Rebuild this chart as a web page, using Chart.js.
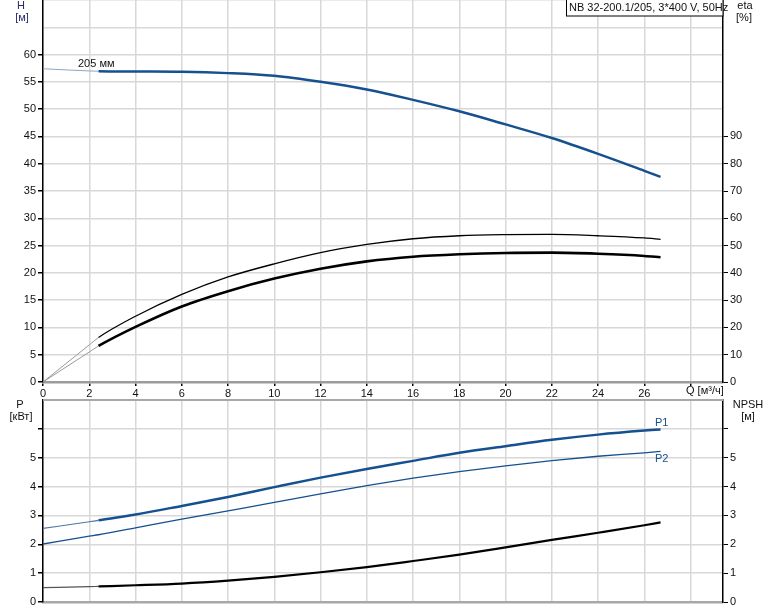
<!DOCTYPE html>
<html>
<head>
<meta charset="utf-8">
<script src="https://cdn.jsdelivr.net/npm/chart.js@4.4.0/dist/chart.umd.min.js"></script>
<style>
  html, body { margin: 0; padding: 0; background: #fff; }
  #wrap { position: relative; width: 774px; height: 611px; overflow: hidden; }
  #cTop { position: absolute; left: 0; top: 0; }
  #cBot { position: absolute; left: 0; top: 396px; }
</style>
</head>
<body>
<div id="wrap">
  <canvas id="cTop" width="774" height="400"></canvas>
  <canvas id="cBot" width="774" height="215"></canvas>
</div>
<script>
// расход Q, м3/ч
const qPts = [0, 2, 2.4, 4, 6, 8, 10, 12, 14, 16, 18, 20, 22, 24, 26, 26.7];
// напор H, м
const headH = [57.4, 57.0, 56.95, 56.9, 56.85, 56.6, 56.1, 55.0, 53.6, 51.7, 49.6, 47.2, 44.7, 41.8, 38.7, 37.6];
// КПД, %
const etaPump = [0, 13.6, 16.3, 24.1, 32.1, 38.5, 43.3, 47.4, 50.4, 52.5, 53.6, 54.0, 54.1, 53.6, 52.8, 52.3];
const etaTotal = [0, 11.0, 13.2, 20.2, 27.7, 33.3, 37.9, 41.5, 44.2, 45.9, 46.8, 47.3, 47.4, 47.0, 46.2, 45.7];
// мощность, кВт
const powerP1 = [2.55, 2.78, 2.83, 3.03, 3.33, 3.64, 3.98, 4.31, 4.61, 4.89, 5.17, 5.40, 5.62, 5.80, 5.94, 5.98];
const powerP2 = [2.01, 2.28, 2.33, 2.57, 2.87, 3.16, 3.45, 3.75, 4.03, 4.29, 4.52, 4.72, 4.90, 5.05, 5.17, 5.22];
// NPSH, м
const npsh = [0.50, 0.53, 0.54, 0.58, 0.64, 0.74, 0.87, 1.03, 1.21, 1.42, 1.64, 1.89, 2.15, 2.40, 2.66, 2.76];

// подписи осей
const qLabels = [0, 2, 4, 6, 8, 10, 12, 14, 16, 18, 20, 22, 24, 26];
const hLabels = [0, 5, 10, 15, 20, 25, 30, 35, 40, 45, 50, 55, 60];
const etaLabels = [0, 10, 20, 30, 40, 50, 60, 70, 80, 90];
const pLabels = [0, 1, 2, 3, 4, 5];
const npshLabels = [0, 1, 2, 3, 4, 5];

const qMax = 29.4;
const qStart = 2.4; // начало рабочей зоны
const FONT = '"Liberation Sans", Arial, sans-serif';
const gridColor = '#d8d8d8';
const blue = '#15508f';

Chart.defaults.font.family = FONT;
Chart.defaults.font.size = 11;
Chart.defaults.color = '#111';
Chart.defaults.animation = false;

const pts = vals => qPts.map((q, i) => ({ x: q, y: vals[i] }));

function line(vals, axis, thinColor, thickColor, wThin, wThick) {
  return {
    data: pts(vals),
    yAxisID: axis,
    borderColor: thickColor,
    borderWidth: wThick,
    pointRadius: 0,
    cubicInterpolationMode: 'monotone',
    segment: {
      borderColor: c => c.p1.parsed.x <= qStart + 1e-6 ? thinColor : thickColor,
      borderWidth: c => c.p1.parsed.x <= qStart + 1e-6 ? wThin : wThick
    }
  };
}

const textPlugin = (id, items, extra) => ({
  id,
  afterDraw(chart) {
    const ctx = chart.ctx;
    ctx.save();
    if (extra) extra(chart, ctx);
    items.forEach(t => {
      ctx.font = (t.size || 11) + 'px ' + FONT;
      ctx.fillStyle = t.color || '#111';
      ctx.textAlign = t.align || 'left';
      ctx.textBaseline = 'middle';
      ctx.fillText(t.text, t.x, t.y);
    });
    ctx.restore();
  }
});

const tickMark = limit => c => (c.tick && c.tick.value <= limit ? '#000' : 'rgba(0,0,0,0)');

// верхний график: H и eta
new Chart(document.getElementById('cTop'), {
  type: 'line',
  data: {
    datasets: [
      line(headH, 'y', '#8ea6c4', blue, 1, 2.5),
      line(etaPump, 'y2', '#9a9a9a', '#000', 1, 1.3),
      line(etaTotal, 'y2', '#9a9a9a', '#000', 1, 2.6)
    ]
  },
  options: {
    responsive: false,
    layout: { padding: 0 },
    plugins: { legend: { display: false }, tooltip: { enabled: false } },
    scales: {
      x: {
        type: 'linear', min: 0, max: qMax,
        ticks: { stepSize: 2, includeBounds: false, autoSkip: false, maxRotation: 0, padding: 1,
                 callback: v => qLabels.includes(v) ? String(v) : '' },
        grid: { color: gridColor, lineWidth: 1.5, tickColor: '#000', tickLength: 4 },
        border: { color: '#9c9c9c', width: 2.5 },
        afterFit: s => { s.height = 18; s.paddingLeft = 0; s.paddingRight = 0; }
      },
      y: {
        position: 'left', min: 0, max: 70,
        ticks: { stepSize: 5, padding: 2, callback: v => hLabels.includes(v) ? String(v) : '' },
        grid: { color: gridColor, lineWidth: 1.5, tickColor: tickMark(60), tickLength: 5 },
        border: { color: '#000', width: 1.5 },
        afterFit: s => { s.width = 43; s.paddingTop = 0; s.paddingBottom = 0; }
      },
      y2: {
        position: 'right', min: 0, max: 140,
        ticks: { stepSize: 10, padding: 2, callback: v => etaLabels.includes(v) ? String(v) : '' },
        grid: { drawOnChartArea: false, tickColor: tickMark(90), tickLength: 5 },
        border: { color: '#000', width: 1.5 },
        afterFit: s => { s.width = 51; s.paddingTop = 0; s.paddingBottom = 0; }
      }
    }
  },
  plugins: [textPlugin('topTexts', [
    { text: 'H', x: 21, y: 6, align: 'center', color: '#2a2a6a' },
    { text: '[м]', x: 22, y: 18, align: 'center', color: '#2a2a6a' },
    { text: 'eta', x: 745, y: 6, align: 'center' },
    { text: '[%]', x: 744, y: 18, align: 'center' },
    { text: 'NB 32-200.1/205, 3*400 V, 50Hz', x: 569, y: 8 },
    { text: '205 мм', x: 78, y: 64 },
    { text: 'Q [м³/ч]', x: 686, y: 391 }
  ], (chart, ctx) => {
    ctx.fillStyle = '#fff';
    ctx.fillRect(566, 0, 157, 16);
    ctx.strokeStyle = '#000';
    ctx.lineWidth = 1;
    ctx.strokeRect(566.5, -0.5, 156.5, 16.5);
  })]
});

// нижний график: P1, P2 и NPSH
new Chart(document.getElementById('cBot'), {
  type: 'line',
  data: {
    datasets: [
      line(powerP1, 'y', '#4f76a6', blue, 1.2, 2.5),
      line(powerP2, 'y', blue, blue, 1.3, 1.3),
      line(npsh, 'y2', '#555', '#000', 1.2, 2.2)
    ]
  },
  options: {
    responsive: false,
    layout: { padding: { top: 4 } },
    plugins: { legend: { display: false }, tooltip: { enabled: false } },
    scales: {
      x: {
        type: 'linear', min: 0, max: qMax,
        ticks: { display: false, stepSize: 2, includeBounds: false },
        grid: { color: gridColor, lineWidth: 1.5, drawTicks: false },
        border: { color: '#a8a8a8', width: 2.5 },
        afterFit: s => { s.height = 9; s.paddingLeft = 0; s.paddingRight = 0; }
      },
      y: {
        position: 'left', min: 0, max: 7,
        ticks: { stepSize: 1, padding: 2, callback: v => pLabels.includes(v) ? String(v) : '' },
        grid: { color: gridColor, lineWidth: 1.5, tickColor: tickMark(6), tickLength: 5 },
        border: { color: '#000', width: 1.5 },
        afterFit: s => { s.width = 43; s.paddingTop = 0; s.paddingBottom = 0; }
      },
      y2: {
        position: 'right', min: 0, max: 7,
        ticks: { stepSize: 1, padding: 2, callback: v => npshLabels.includes(v) ? String(v) : '' },
        grid: { drawOnChartArea: false, tickColor: tickMark(6), tickLength: 5 },
        border: { color: '#000', width: 1.5 },
        afterFit: s => { s.width = 51; s.paddingTop = 0; s.paddingBottom = 0; }
      }
    }
  },
  plugins: [textPlugin('botTexts', [
    { text: 'P', x: 20, y: 9, align: 'center' },
    { text: '[кВт]', x: 21, y: 21, align: 'center' },
    { text: 'NPSH', x: 748, y: 9, align: 'center' },
    { text: '[м]', x: 748, y: 21, align: 'center' },
    { text: 'P1', x: 655, y: 27, color: blue },
    { text: 'P2', x: 655, y: 63, color: blue }
  ], (chart, ctx) => {
    const a = chart.chartArea;
    ctx.strokeStyle = '#a8a8a8';
    ctx.lineWidth = 2;
    ctx.beginPath();
    ctx.moveTo(a.left, a.top);
    ctx.lineTo(a.right, a.top);
    ctx.stroke();
  })]
});
</script>
</body>
</html>
